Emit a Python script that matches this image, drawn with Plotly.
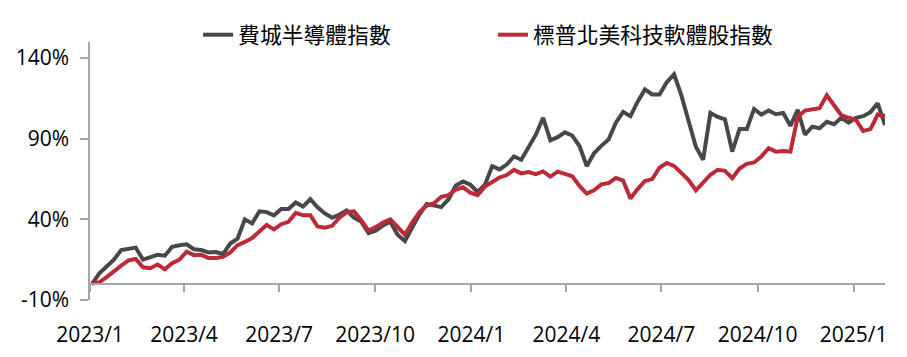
import pandas as pd
import plotly.graph_objects as go

# x grid: roughly weekly observation dates
dates = pd.date_range("2023-01-03", "2025-01-31", periods=110)

sox_name = "費城半導體指數"
sox = [0, 6.5, 10.8, 15, 21, 22, 22.5, 15, 16.3, 18,
       17.5, 23, 24, 24.5, 21.5, 21, 19.5, 19.7, 18.5, 25,
       28, 40, 37.5, 45, 44.5, 42.5, 46.5, 46.5, 50.5, 48,
       52.5, 47.5, 43.7, 41, 43, 45.5, 41, 38.5, 31.5, 33,
       36.3, 38.5, 30.5, 26.5, 35, 43, 49.6, 48.6, 47.6, 52.5,
       61, 63.5, 61.5, 57, 61.5, 73, 71, 74, 79, 77,
       84.5, 92.5, 103, 89, 91, 94, 92, 85.5, 73, 81,
       85.6, 89.5, 100, 106.7, 104, 113, 120.6, 117.5, 117.5, 125,
       130, 117, 101, 85, 77, 106, 103.5, 102, 82, 96,
       96, 108.5, 105, 107.5, 105.2, 106, 98, 108, 92.5, 97.5,
       96.5, 100.5, 99, 103, 100, 103, 104, 106.5, 112, 98.5]

sw_name = "標普北美科技軟體股指數"
sw = [0, 1, 4.2, 8, 11.3, 14.5, 15.5, 10.3, 9.7, 12,
      9, 12.8, 15, 20, 17.8, 18, 16, 16, 16.7, 19.5,
      24, 26, 28.4, 32.5, 36.5, 33.8, 37, 38.5, 44, 42.5,
      42.5, 35.6, 34.8, 36, 41, 44.5, 45, 39.5, 33, 35.2,
      38, 40, 35, 30.5, 38, 44.5, 48.6, 50, 54, 55,
      58.5, 59.9, 56.5, 55, 60.3, 63.5, 66, 67.5, 70.7, 68.5,
      69.3, 68, 69.7, 66.5, 69.6, 68.2, 66.7, 60.8, 56, 58,
      61.7, 62.5, 65.7, 64.1, 53, 58.8, 63.8, 65, 72, 75,
      73.2, 68.8, 64.4, 58, 62.5, 67.7, 70.7, 70.1, 65.5, 71.5,
      74.4, 75.3, 79, 84.2, 82, 82.4, 82, 103.6, 107.5, 108.5,
      109, 117, 110.7, 104.6, 103, 101.8, 94.8, 96, 105, 104.2]

y_tickvals = [-10, 40, 90, 140]
y_ticktext = ["-10%", "40%", "90%", "140%"]

GRAY = "#48484A"
RED = "#BC2A3A"
AXIS = "#A6A6A6"
FONT = "Open Sans, Noto Sans CJK TC, sans-serif"

fig = go.Figure()
fig.add_trace(go.Scatter(x=dates, y=sox, mode="lines", name=sox_name,
                         line=dict(color=GRAY, width=4), legend="legend"))
fig.add_trace(go.Scatter(x=dates, y=sw, mode="lines", name=sw_name,
                         line=dict(color=RED, width=4), legend="legend2"))

fig.update_layout(
    width=907, height=357,
    margin=dict(l=90, r=22, t=42, b=57, autoexpand=False),
    paper_bgcolor="white", plot_bgcolor="white",
    font=dict(family=FONT, size=21, color="#000000"),
    showlegend=True,
    legend=dict(orientation="h", x=0.136, y=1.027, xanchor="left", yanchor="middle",
                font=dict(family="Noto Sans CJK TC", size=21.8, color="#000000"),
                bgcolor="rgba(0,0,0,0)"),
    legend2=dict(orientation="h", x=0.507, y=1.027, xanchor="left", yanchor="middle",
                 font=dict(family="Noto Sans CJK TC", size=21.8, color="#000000"),
                 bgcolor="rgba(0,0,0,0)"),
    xaxis=dict(
        type="date",
        range=["2023-01-01", "2025-01-31"],
        anchor="free", position=0.0625,
        showline=True, linecolor=AXIS, linewidth=1.5,
        ticks="outside", ticklen=7, tickcolor=AXIS, tickwidth=1.5,
        tick0="2023-01-01", dtick="M3", tickformat="%Y/%-m",
        ticklabelstandoff=25, automargin=False,
        showgrid=False, zeroline=False,
        tickfont=dict(family=FONT, size=21, color="#000000"),
    ),
    yaxis=dict(
        range=[-10, 150],
        tickvals=y_tickvals, ticktext=y_ticktext,
        showline=True, linecolor=AXIS, linewidth=1.5,
        ticks="outside", ticklen=8, tickcolor=AXIS, tickwidth=1.5,
        ticklabelstandoff=7, automargin=False,
        showgrid=False, zeroline=False,
        tickfont=dict(family=FONT, size=21, color="#000000"),
    ),
)

fig.write_html("out.html", config={"displayModeBar": False},
               post_script="document.body.style.margin='0';")
